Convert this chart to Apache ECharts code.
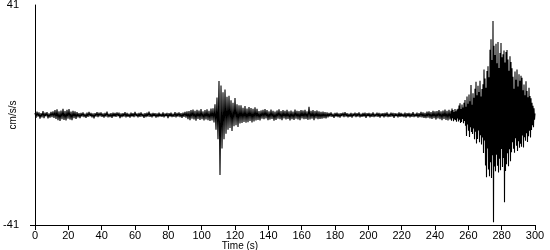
<!DOCTYPE html>
<html>
<head>
<meta charset="utf-8">
<script src="https://cdn.jsdelivr.net/npm/echarts@6/dist/echarts.min.js"></script>
<style>html,body{margin:0;padding:0;background:#fff}#c{width:550px;height:250px}</style>
</head>
<body>
<div id="c"></div>
<script>
// Sample step (s) of the read-off trace, one value per screen column
const sampleStep = 0.6;
const mainShakingStep = 0.3;
const yTickValues = [-41, 41];
const xTitle = 'Time (s)';
const yTitle = 'cm/s/s';

// Segment 1: pre-event noise, starting at 0 s
const preEventStart = 0;
const preEvent = [
  0.8,-1.1,1.3,-0.6,1.0,-1.4,0.7,-0.9,1.5,-1.2,0.9,-0.5,1.1,-1.3,0.6,-1.0,1.2,-0.8,1.4,-1.1,
  1.8,-1.5,2.1,-1.9,1.4,-2.2,1.7,-1.6,2.3,-1.8,1.5,-2.0,1.9,-1.4,2.2,-1.7,1.3,-1.9,1.6,-1.2,1.4,-1.5,1.1,
  -0.9,0.7,-1.2,0.8,-0.6,1.0,-0.8,0.5,-1.1,0.9,
  -0.7,1.2,-0.5,0.8,-0.9,0.6,-1.3,0.7,-0.6,1.1,
  -0.8,0.9,-0.5,1.0,-0.7,0.6,-1.0,0.8,-0.6,1.3,
  -0.9,0.5,-0.8,0.7,-1.1,0.9,-0.6,0.8,-0.7,1.0,
  -0.5,0.9,-1.2,0.6,-0.8,0.7,-0.6,1.1,-0.9,0.8,
  -0.7,0.5,-1.0,0.9,-0.6,0.7,-0.8,1.2,-0.5,0.6,
  -0.9,0.8,-0.7,1.0,-0.6,0.5,-1.1,0.7,-0.8,0.9,
  -0.6,1.3,-0.7,0.6,-0.9,0.8,-0.5,0.7,-1.0,0.6,
  -0.8,0.9,-0.6,0.5,-0.7,1.0,-0.9,0.6,-0.5,0.8,
  -1.2,0.7,-0.6,0.9,-0.8,0.5,-0.7,1.1,-0.9,0.8,
  -0.6,1.0,-0.8,0.7,-1.1,0.9,-0.7,1.2,-1.0,1.4,
  -1.6,1.5,-1.9,1.8,-1.4,2.0,-1.7,1.6,-2.1,1.9,-1.5,1.7,-1.8,2.2,-1.6,1.4,-2.0,1.8,-1.7,2.1,-1.9,1.6,-2.2,2.4,-2.0
];

// Segment 2: first arrival burst, starting at 106.8 s
const firstArrivalStart = 106.8;
const firstArrival = [
  2.5,-2.8,4.0,-5.5,6.5,-9.0,12.7,-22.4,11.0,-12.5,
  8.5,-9.0,9.5,-7.0,6.8,-5.5,7.2,-4.8,5.5,-6.0,
  4.6,-4.2,6.3,-3.8,4.0,-4.5,3.6,-3.2,
  3.6,-3.0,2.7,-2.6,3.3,-2.9,2.4,-2.7,3.0,-2.2,
  2.6,-2.8,2.3,-2.4,2.9,-2.0,2.3
];

// Segment 3: coda and quiet interval, starting at 133.8 s
const codaStart = 133.8;
const coda = [
  -1.8,1.5,-2.0,1.7,-1.4,1.9,-1.6,2.2,-1.3,1.8,
  -1.9,1.4,-1.7,2.0,-1.5,1.6,-2.1,1.3,-1.8,1.7,
  -1.4,2.1,-1.6,1.5,-1.9,1.8,-1.3,1.6,-1.7,1.9,
  -1.5,1.4,-2.0,1.7,-1.6,1.3,-1.8,2.0,-1.4,1.6,
  -1.7,1.5,-1.9,1.8,-1.3,1.7,-1.6,1.9,-1.5,1.4,
  -1.8,3.1,-1.7,1.6,-1.4,1.8,-1.9,1.5,-1.3,1.7,
  -1.6,1.4,-1.5,1.2,-1.4,1.3,-1.2,1.1,-1.3,1.0,
  -0.9,0.8,-0.6,1.0,-0.7,0.5,-1.1,0.8,-0.6,0.9,
  -0.8,0.6,-1.0,0.7,-0.5,0.9,-0.8,1.1,-0.6,0.7,
  -0.9,0.5,-0.7,0.8,-1.0,0.6,-0.5,0.9,-0.8,0.7,
  -0.6,1.0,-0.9,0.5,-0.7,0.8,-0.6,0.9,-1.1,0.7,
  -0.5,0.8,-0.9,0.6,-0.7,1.0,-0.8,0.5,-0.6,0.9,
  -0.7,0.8,-1.0,0.6,-0.5,0.7,-0.9,0.8,-0.6,1.0,
  -0.8,0.5,-0.7,0.9,-0.6,0.8,-1.1,0.7,-0.5,0.6,
  -0.9,1.0,-0.7,0.8,-0.6,0.5,-0.8,0.9,-1.0,0.7,
  -0.6,0.8,-0.9,0.6,-0.7,1.1,-0.8,0.5,-0.6,0.9,
  -1.0,0.7,-0.8,1.2,-0.9,1.0,-1.1,0.8,-1.2,1.3,
  -1.0,1.4,-1.3,1.1,-1.5,1.6,-1.2,1.4,-1.7,1.5,
  -1.3,1.8,-1.6,1.4,-1.9,1.7,-1.5,2.0,-1.8,1.6,
  -2.0,1.9,-1.7
];

// Segment 4: main shaking, starting at 249.6 s, read at 0.3 s
const mainShakingStart = 249.6;
const mainShaking = [
  1.6,-2.1,2.4,-1.2,1.9,-2.3,1.1,-1.7,2.2,-1.9,1.4,-2.5,2.0,-1.3,2.3,
  -2.4,3.5,-1.8,4.4,-3.0,2.2,-2.6,3.9,-1.5,2.8,-3.1,4.6,-2.2,
  5.6,-4.0,3.1,-7.8,6.9,-3.5,4.2,-5.9,7.6,-8.2,5.1,-4.6,11.2,-6.3,3.8,-7.1,8.1,-5.0,6.4,-9.0,
  9.8,-6.2,12.4,-10.6,7.4,-8.9,10.9,-5.8,8.6,-10.2,12.8,-7.5,6.9,-11.0,9.7,-8.4,11.5,
  -14.2,17.0,-9.5,13.6,-18.8,10.2,-23.2,16.4,-12.5,18.2,-20.3,14.1,-22.8,
  24.3,-17.6,28.2,-23.5,20.5,-15.0,35.0,-40.0,25.8,-19.2,
  22.4,-21.0,26.6,-14.8,19.3,-18.9,27.2,-21.4,17.5,-16.3,
  23.1,-20.6,26.8,-12.7,21.5,-19.4,22.6,-16.0,24.0,-32.5,19.6,-20.9,23.5,
  -18.4,24.2,-14.3,20.7,-19.1,16.5,-12.8,21.9,-17.2,19.8,
  -13.9,17.4,-10.2,14.3,-12.6,9.8,-14.1,16.2,-8.7,13.1,-11.5,17.0,-13.4,10.6,-9.8,15.2,-12.2,12.8,-10.7,14.6,
  -11.8,13.9,-7.6,9.2,-12.1,11.4,-8.3,7.4,-9.6,12.6,-6.8,8.9,-10.1,6.6,-7.9,10.2,-5.9,7.1,-8.4,6.2,
  -5.6,4.6,-3.8,3.4,-4.6,2.5,-1.8,0.6
];

function toPoints(start, step, values) {
  return values.map((v, i) => [+(start + i * step).toFixed(2), v]);
}
const trace = [].concat(
  toPoints(preEventStart, sampleStep, preEvent),
  toPoints(firstArrivalStart, sampleStep, firstArrival),
  toPoints(codaStart, sampleStep, coda),
  toPoints(mainShakingStart, mainShakingStep, mainShaking)
);

const font = 'Arial, "Liberation Sans", sans-serif';
const chart = echarts.init(document.getElementById('c'), null, {renderer: 'canvas'});
chart.setOption({
  animation: false,
  backgroundColor: '#ffffff',
  grid: {left: 35, right: 15, top: 5, bottom: 25, containLabel: false, outerBoundsMode: 'none'},
  xAxis: {
    type: 'value', min: 0, max: 300, interval: 20,
    name: xTitle, nameLocation: 'middle', nameGap: 16, nameMoveOverlap: false,
    nameTextStyle: {color: '#000', fontSize: 10, fontFamily: font, padding: [0, 90, 0, 0]},
    axisLine: {onZero: false, lineStyle: {color: '#000', width: 1}},
    axisTick: {show: true, inside: false, length: 5, lineStyle: {color: '#000'}},
    axisLabel: {color: '#000', fontSize: 11, fontFamily: font, margin: 5},
    splitLine: {show: false}
  },
  yAxis: {
    type: 'value', min: yTickValues[0], max: yTickValues[1],
    name: yTitle, nameLocation: 'middle', nameRotate: 90, nameGap: 17, nameMoveOverlap: false,
    nameTextStyle: {color: '#000', fontSize: 10, fontFamily: font},
    axisLine: {show: true, onZero: false, lineStyle: {color: '#000', width: 1}},
    axisTick: {show: true, length: 5, customValues: [yTickValues[0]], lineStyle: {color: '#000'}},
    axisLabel: {color: '#000', fontSize: 11, fontFamily: font, margin: 16, customValues: yTickValues},
    splitLine: {show: false}
  },
  series: [{
    type: 'line',
    data: trace,
    showSymbol: false,
    symbol: 'none',
    sampling: null,
    lineStyle: {color: '#000', width: 1.1},
    silent: true
  }]
});
</script>
</body>
</html>
